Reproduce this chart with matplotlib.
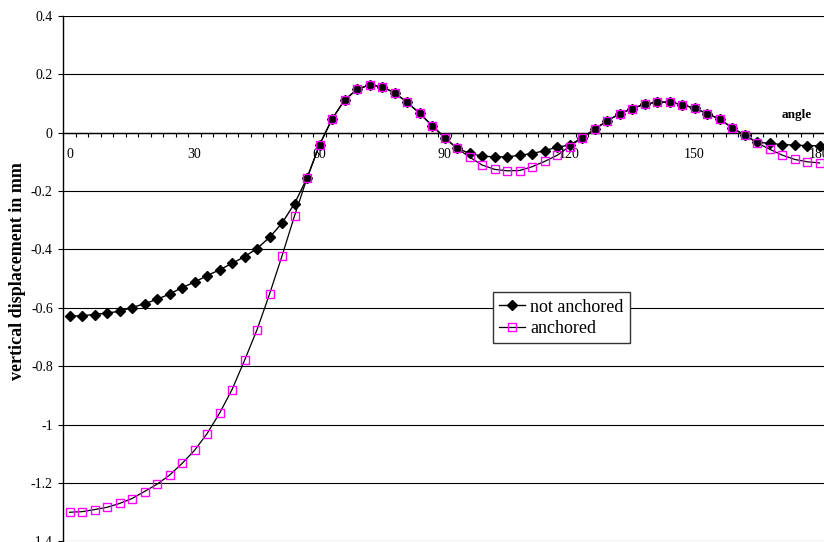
import matplotlib
matplotlib.use("Agg")
import matplotlib.pyplot as plt

plt.rcParams['font.family'] = ['Liberation Serif', 'DejaVu Serif']

# angle in degrees, one point every 3 degrees
angle = list(range(0, 181, 3))

not_anchored = [-0.629, -0.627, -0.623, -0.618, -0.612, -0.599, -0.586, -0.571, -0.553, -0.531,
                -0.512, -0.490, -0.470, -0.448, -0.425, -0.397, -0.359, -0.310, -0.243, -0.156,
                -0.042, 0.046, 0.111, 0.148, 0.163, 0.157, 0.136, 0.104, 0.066, 0.024,
                -0.017, -0.054, -0.071, -0.081, -0.083, -0.083, -0.078, -0.072, -0.062, -0.050,
                -0.043, -0.018, 0.011, 0.040, 0.064, 0.082, 0.097, 0.104, 0.104, 0.096,
                0.083, 0.065, 0.046, 0.017, -0.009, -0.033, -0.037, -0.041, -0.043, -0.045,
                -0.045]

anchored = [-1.300, -1.298, -1.291, -1.283, -1.270, -1.253, -1.229, -1.204, -1.173, -1.133,
            -1.088, -1.031, -0.961, -0.880, -0.780, -0.675, -0.553, -0.422, -0.285, -0.156,
            -0.042, 0.046, 0.111, 0.148, 0.163, 0.157, 0.136, 0.104, 0.066, 0.024,
            -0.017, -0.054, -0.084, -0.111, -0.126, -0.131, -0.130, -0.117, -0.099, -0.078,
            -0.048, -0.018, 0.011, 0.040, 0.064, 0.082, 0.097, 0.104, 0.104, 0.096,
            0.083, 0.065, 0.046, 0.017, -0.009, -0.035, -0.057, -0.077, -0.092, -0.100,
            -0.104]

y_ticks = [0.4, 0.2, 0, -0.2, -0.4, -0.6, -0.8, -1, -1.2, -1.4]
x_labels = [0, 30, 60, 90, 120, 150, 180]

fig = plt.figure(figsize=(8.24, 5.42), dpi=100)
ax = fig.add_axes([0.0768, 0.001, 0.9254, 0.970])

ax.plot(angle, not_anchored, color='black', lw=1.0, marker='D', ms=5,
        mfc='black', mec='black', label='not anchored', zorder=3)
ax.plot(angle, anchored, color='black', lw=0.9, marker='s', ms=5.5,
        mfc='none', mec='#ff00ff', mew=1.0, label='anchored', zorder=4)

ax.set_xlim(-1.5, 181.5)
ax.set_ylim(-1.4, 0.4)

for v in y_ticks:
    ax.axhline(v, color='black', lw=0.8, zorder=1)

ax.spines['top'].set_visible(False)
ax.spines['right'].set_visible(False)
ax.spines['bottom'].set_position(('data', 0))
ax.spines['bottom'].set_linewidth(1.0)
ax.spines['left'].set_linewidth(1.0)

ax.set_yticks(y_ticks)
ax.set_yticklabels([f"{v:g}" for v in y_ticks])
ax.tick_params(axis='y', direction='out', length=3.5, width=0.8, pad=4, labelsize=10)

ax.set_xticks(x_labels)
ax.set_xticklabels([str(v) for v in x_labels])
ax.set_xticks([-1.5 + 3 * k for k in range(62)], minor=True)
ax.tick_params(axis='x', which='major', length=0, pad=11, labelsize=10)
ax.tick_params(axis='x', which='minor', direction='out', length=3, width=0.8)

ax.text(174.6, 0.06, 'angle', fontsize=9.5, fontweight='bold', ha='center', va='center')
fig.text(18 / 824, 0.5, 'vertical displacement in mm', rotation=90, fontsize=13,
         fontweight='bold', ha='center', va='center')

leg = ax.legend(loc='upper left', bbox_to_anchor=(0.5636, 0.474), borderaxespad=0,
                fontsize=13, handlelength=1.4, handletextpad=0.3, labelspacing=0.25,
                borderpad=0.35, fancybox=False, framealpha=1, edgecolor='#333333')
leg.get_frame().set_linewidth(1.0)

fig.savefig('out.png', dpi=100)
